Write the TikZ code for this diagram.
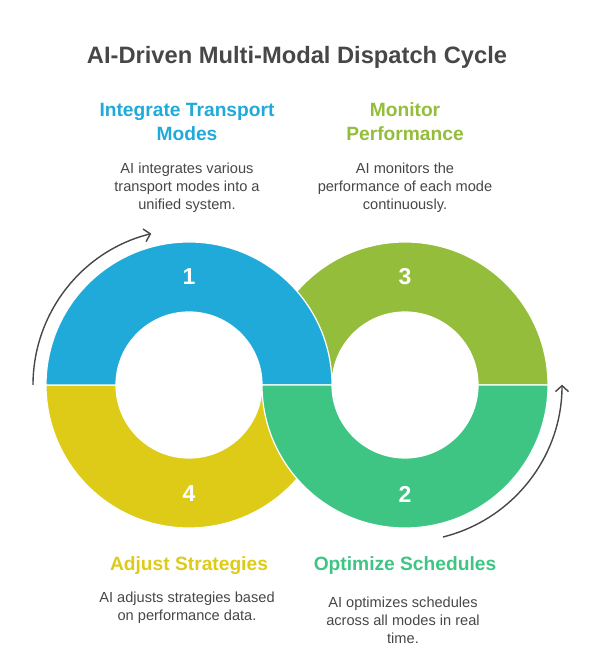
\documentclass[tikz,border=0pt]{standalone}
\usepackage{fontspec}
\setmainfont{Liberation Sans}
\usepackage{tikz}
\usetikzlibrary{arrows.meta}

\definecolor{ringblue}{HTML}{1FAAD9}
\definecolor{ringolive}{HTML}{93BD3A}
\definecolor{ringyellow}{HTML}{DECB17}
\definecolor{ringteal}{HTML}{3EC584}
\definecolor{txtgray}{HTML}{474747}

\begin{document}
\begin{tikzpicture}
          [
            x=1pt,y=1pt,
            seg/.style={draw=white,line width=1.2pt},
            num/.style={text=white,font=\fontsize{23}{23}\selectfont\bfseries},
            head/.style={align=center,font=\fontsize{19.2}{24}\selectfont\bfseries},
            body/.style={align=center,text=txtgray,font=\fontsize{14.6}{18}\selectfont},
            cyc/.style={draw=txtgray,line width=1.4pt,-{Straight Barb[length=6pt,width=13pt]}}
          ]
          \useasboundingbox (0,0) rectangle (596,663);
          % title
          \node[text=txtgray,font=\fontsize{23.7}{28}\selectfont\bfseries] (ttl) at (297,606)
          {AI-Driven Multi-Modal Dispatch Cycle};
          % ring 3 (top right)
          \draw [seg,fill=ringolive] (262,278) arc[start angle=180,end angle=0,radius=143]
          -- (478,278) arc[start angle=0,end angle=180,radius=73] -- cycle;
          % ring 4 (bottom left)
          \draw [seg,fill=ringyellow] (46,278) arc[start angle=180,end angle=360,radius=143]
          -- (262,278) arc[start angle=360,end angle=180,radius=73] -- cycle;
          % ring 1 (top left)
          \draw [seg,fill=ringblue] (46,278) arc[start angle=180,end angle=0,radius=143]
          -- (262,278) arc[start angle=0,end angle=180,radius=73] -- cycle;
          % ring 2 (bottom right)
          \draw [seg,fill=ringteal] (262,278) arc[start angle=180,end angle=360,radius=143]
          -- (478,278) arc[start angle=360,end angle=180,radius=73] -- cycle;
          % numbers
          \foreach \n/\x/\y in {1/189/386,2/405/169,3/405/386,4/189/169} {
              \node[num] (n\n) at (\x,\y) {\n};
          }
          % cycle arrows
          \draw [cyc] (33,278) arc[start angle=180,end angle=104,radius=156];
          \draw [cyc] (443,126) arc[start angle=-76,end angle=0,radius=157];
          % texts
          \node[head,text=ringblue] (h1) at (187,541) {Integrate Transport\\Modes};
          \node[body] (t1) at (187,475) {AI integrates various\\transport modes into a\\unified system.};
          \node[head,text=ringolive] (h3) at (405,541) {Monitor\\Performance};
          \node[body] (t3) at (405,475) {AI monitors the\\performance of each mode\\continuously.};
          \node[head,text=ringyellow] (h4) at (189,97) {Adjust Strategies};
          \node[body] (t4) at (187,55) {AI adjusts strategies based\\on performance data.};
          \node[head,text=ringteal] (h2) at (405,97) {Optimize Schedules};
          \node[body] (t2) at (403,43) {AI optimizes schedules\\across all modes in real\\time.};
\end{tikzpicture}
\end{document}
